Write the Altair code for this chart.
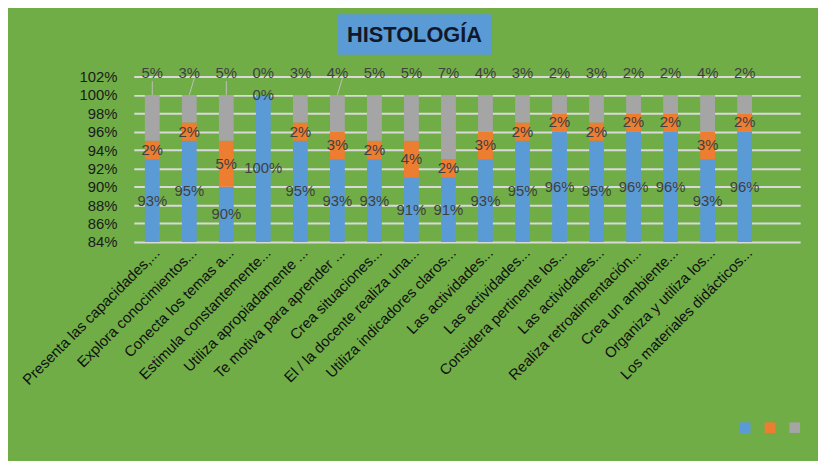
import json
import altair as alt
import pandas as pd

# ---------------- data ----------------
questions = [
    "Presenta las capacidades,...",
    "Explora conocimientos...",
    "Conecta los temas a...",
    "Estimula constantemente...",
    "Utiliza apropiadamente ...",
    "Te motiva para aprender ...",
    "Crea situaciones...",
    "El / la docente realiza una...",
    "Utiliza indicadores claros...",
    "Las actividades...",
    "Las actividades...",
    "Considera pertinente los...",
    "Las actividades...",
    "Realiza retroalimentación...",
    "Crea un ambiente...",
    "Organiza y utiliza los...",
    "Los materiales didácticos...",
]
serie1 = [93, 95, 90, 100, 95, 93, 93, 91, 91, 93, 95, 96, 95, 96, 96, 93, 96]
serie2 = [2, 2, 5, 0, 2, 3, 2, 4, 2, 3, 2, 2, 2, 2, 2, 3, 2]
serie3 = [5, 3, 5, 0, 3, 4, 5, 5, 7, 4, 3, 2, 3, 2, 2, 4, 2]
series_names = ["Serie1", "Serie2", "Serie3"]
series_colors = ["#5B9BD5", "#ED7D31", "#A5A5A5"]
y_ticks = [84, 86, 88, 90, 92, 94, 96, 98, 100, 102]
title_text = "HISTOLOGÍA"
straight_leaders = [0, 2]   # bars whose top label has a vertical leader line
slanted_leaders = [1, 5]    # bars whose top label has a slanted leader line

# empty trailing category (as in the original sheet)
n_slots = len(questions) + 1
slot_labels = questions + [""]

# ---------------- tables ----------------
rows = []
for i in range(len(questions)):
    vals = [serie1[i], serie2[i], serie3[i]]
    for k, name in enumerate(series_names):
        rows.append({"idx": i, "serie": name, "order": k, "value": vals[k]})
bars_df = pd.DataFrame(rows)

y_min, y_max = y_ticks[0], y_ticks[-1]
lab_rows = []
for i in range(len(questions)):
    lab_rows.append({"idx": i, "value": serie1[i], "ly": (y_min + serie1[i]) / 2})
    lab_rows.append({"idx": i, "value": serie2[i], "ly": serie1[i] + serie2[i] / 2})
    lab_rows.append({"idx": i, "value": serie3[i], "ly": y_max + 0.35})
labels_df = pd.DataFrame(lab_rows)
labels_df["txt"] = labels_df["value"].astype(int).astype(str) + "%"

tops = [serie1[i] + serie2[i] + serie3[i] for i in range(len(questions))]
lead_v = pd.DataFrame({"idx": straight_leaders,
                       "y0": [tops[i] for i in straight_leaders],
                       "y1": [y_max - 0.5 for _ in straight_leaders]})
lead_s = pd.DataFrame({"idx": slanted_leaders,
                       "y0": [tops[i] for i in slanted_leaders],
                       "y1": [y_max - 0.2 for _ in slanted_leaders]})

FONT = "Liberation Sans"

label_expr = "[" + ",".join(json.dumps(s, ensure_ascii=False) for s in slot_labels) + "][datum.value]"

x_scale = alt.Scale(domain=list(range(n_slots)), paddingInner=0.6, paddingOuter=0.3)
y_scale = alt.Scale(domain=[y_min, y_max], nice=False, zero=False)

x_axis = alt.Axis(
    labelExpr=label_expr,
    labelAngle=-45,
    labelFontSize=15,
    labelColor="#111111",
    labelFont=FONT,
    labelPadding=3,
    labelLimit=400,
    labelOverlap=False,
    ticks=False,
    domain=False,
    grid=False,
)
y_axis = alt.Axis(
    values=y_ticks,
    labelExpr="datum.value + '%'",
    labelFontSize=15,
    labelColor="#1a1a1a",
    labelFont=FONT,
    labelPadding=17,
    labelOverlap=False,
    ticks=False,
    domain=False,
    grid=True,
    gridColor="#D9D9D9",
    gridWidth=2,
)

bars = alt.Chart(bars_df).mark_bar(clip=True).encode(
    x=alt.X("idx:O", scale=x_scale, axis=x_axis, title=None),
    y=alt.Y("value:Q", stack="zero", scale=y_scale, axis=y_axis, title=None),
    color=alt.Color(
        "serie:N",
        scale=alt.Scale(domain=series_names, range=series_colors),
        legend=alt.Legend(
            orient="none",
            legendX=612,
            legendY=349,
            direction="horizontal",
            title=None,
            labelExpr="''",
            labelOffset=0,
            symbolType="square",
            symbolSize=115,
            symbolStrokeWidth=0,
            columnPadding=14,
        ),
    ),
    order=alt.Order("order:Q"),
)

labels = alt.Chart(labels_df).mark_text(
    fontSize=15, font=FONT, color="#404040", baseline="middle"
).encode(
    x=alt.X("idx:O", scale=x_scale, axis=x_axis, title=None),
    y=alt.Y("ly:Q", scale=y_scale, axis=y_axis, title=None),
    text="txt:N",
)

leaders_v = alt.Chart(lead_v).mark_rule(color="#BFBFBF", strokeWidth=1).encode(
    x=alt.X("idx:O", scale=x_scale, axis=x_axis, title=None),
    y=alt.Y("y0:Q", scale=y_scale, axis=y_axis, title=None),
    y2="y1:Q",
)
leaders_s = alt.Chart(lead_s).mark_rule(color="#BFBFBF", strokeWidth=1, x2Offset=5).encode(
    x=alt.X("idx:O", scale=x_scale, axis=x_axis, title=None),
    x2="idx:O",
    y=alt.Y("y0:Q", scale=y_scale, axis=y_axis, title=None),
    y2="y1:Q",
)

title_df = pd.DataFrame({"t": [title_text]})
title_box = alt.Chart(title_df).mark_rect(color="#5B9BD5").encode(
    x=alt.value(206), x2=alt.value(361), y=alt.value(-63), y2=alt.value(-22)
)
title_txt = alt.Chart(title_df).mark_text(
    fontSize=22, fontWeight="bold", font=FONT, color="#10192b", baseline="middle"
).encode(x=alt.value(283.5), y=alt.value(-42), text="t:N")

chart = alt.layer(bars, leaders_v, leaders_s, labels, title_box, title_txt).properties(
    width=673,
    height=167,
    autosize=alt.AutoSizeParams(type="none"),
    padding={"left": 127, "top": 67, "right": 18, "bottom": 219},
    background="#70AD47",
).configure_view(stroke=None)

chart.save("out.html", embed_options={"renderer": "svg", "actions": False})
